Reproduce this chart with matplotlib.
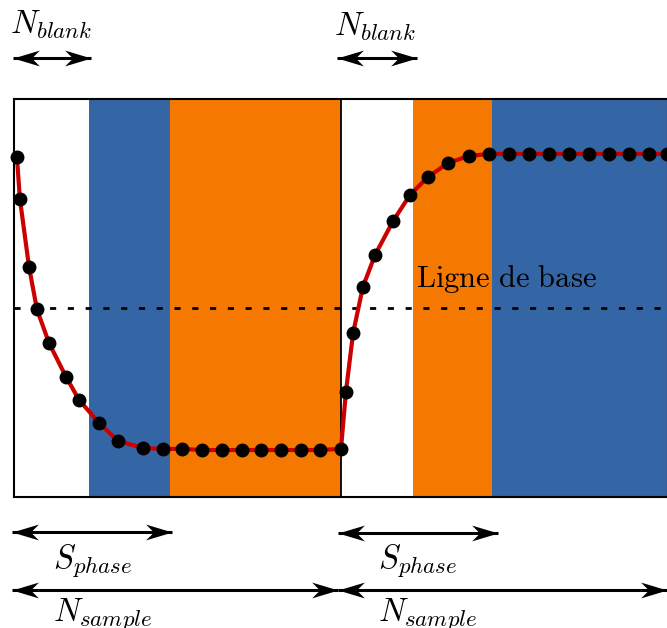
import numpy as np
import matplotlib
matplotlib.use("Agg")
import matplotlib.pyplot as plt
from matplotlib.path import Path

plt.rcParams['mathtext.fontset'] = 'cm'

# signal samples (x: one sample period = 100, y: 0 bottom .. 100 top of box)
x_down = [0.9, 1.8, 4.6, 7.0, 10.7, 15.9, 19.9, 26.0, 31.8, 39.4, 45.6, 51.4,
          57.5, 63.6, 69.7, 75.5, 81.7, 87.8, 93.6, 100.0]
y_down = [85.4, 74.9, 57.8, 47.2, 38.7, 30.2, 24.4, 18.6, 14.1, 12.3, 12.1, 12.1,
          11.8, 11.8, 11.8, 11.8, 11.8, 11.8, 11.8, 12.1]
x_up = [101.5, 103.7, 106.7, 110.4, 115.9, 121.1, 126.6, 132.7, 139.1, 145.3,
        151.4, 157.5, 163.6, 169.7, 175.8, 182.0, 188.1, 194.2, 199.7]
y_up = [26.4, 41.2, 52.8, 60.8, 69.3, 75.9, 80.4, 83.9, 85.7, 86.2,
        86.2, 86.2, 86.2, 86.2, 86.2, 86.2, 86.2, 86.2, 86.2]
baseline = 47.5

# phase bands: (start, end, colour)
blue = '#3465a4'
orange = '#f57900'
bands = [(22.8, 47.7, blue), (47.7, 100, orange),
         (121.9, 146.3, orange), (146.3, 205, blue)]

fig = plt.figure(figsize=(6.67, 6.28), dpi=100)
ax = fig.add_axes([14 / 667, 1 - 497 / 628, 654 / 667, 398 / 628])
ax.set_xlim(0, 200)
ax.set_ylim(0, 100)
ax.set_xticks([])
ax.set_yticks([])
for s in ax.spines.values():
    s.set_linewidth(1.5)

for a, b, c in bands:
    ax.axvspan(a, b, color=c, lw=0, zorder=0)
ax.axvline(100, color='black', lw=1.3, zorder=1)

ax.axhline(baseline, color='black', lw=2, dashes=(2.2, 4.2), zorder=2)
ax.text(122.9, 52.7, r'$\mathrm{Ligne\ de\ base}$', fontsize=22,
        va='baseline', ha='left', zorder=3)

xs = x_down + x_up
ys = y_down + y_up
ax.plot(xs, ys, color='#cc0000', lw=3, zorder=4, clip_on=False)
ax.plot(xs, ys, 'o', color='black', ms=9, zorder=5, clip_on=False)

# stealth arrow heads as markers, tip on the anchor point
head_l = [(0, 0), (2, 0.6), (1.4, 0), (2, -0.6), (0, 0)]
head_r = [(-x, y) for x, y in head_l]
codes = [Path.MOVETO, Path.LINETO, Path.LINETO, Path.LINETO, Path.CLOSEPOLY]
mk_l = Path(head_l, codes)
mk_r = Path(head_r, codes)


def double_arrow(x0, x1, y):
    ax.plot([x0, x1], [y, y], color='black', lw=2.2, clip_on=False,
            solid_capstyle='butt', zorder=6)
    ax.plot([x0], [y], marker=mk_l, ms=38, color='black', mew=0,
            clip_on=False, zorder=6)
    ax.plot([x1], [y], marker=mk_r, ms=38, color='black', mew=0,
            clip_on=False, zorder=6)


arrows = [(-0.4, 23.5, 110.4), (98.9, 123.3, 110.4),
          (-0.7, 48.2, -8.9), (99.2, 148.1, -9.1),
          (-0.7, 99.2, -23.4), (99.2, 199.7, -23.4)]
for x0, x1, y in arrows:
    double_arrow(x0, x1, y)

labels = [(-1.3, 116.4, r'$N_{blank}$'), (98.0, 116.0, r'$N_{blank}$'),
          (11.8, -17.6, r'$S_{phase}$'), (111.2, -17.6, r'$S_{phase}$'),
          (11.8, -30.9, r'$N_{sample}$'), (111.2, -30.9, r'$N_{sample}$')]
for x, y, t in labels:
    ax.text(x, y, t, fontsize=23.5, ha='left', va='baseline', clip_on=False)

fig.savefig('out.png', dpi=100)
